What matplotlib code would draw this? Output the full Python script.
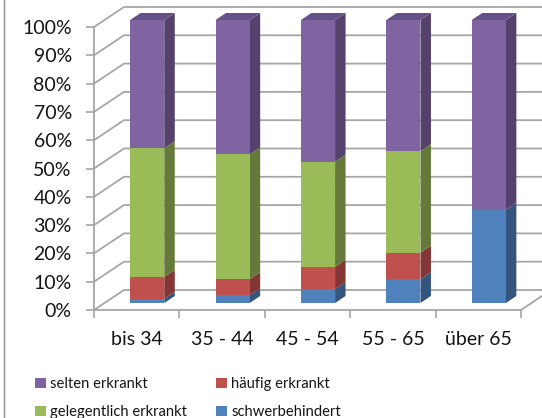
import numpy as np
import matplotlib.pyplot as plt
from matplotlib.patches import Polygon
from matplotlib.lines import Line2D

plt.rcParams['font.family'] = ['Lato', 'DejaVu Sans']

age_groups = ["bis 34", "35 - 44", "45 - 54", "55 - 65", "über 65"]
series_names = ["schwerbehindert", "häufig erkrankt", "gelegentlich erkrankt", "selten erkrankt"]
schwerbehindert = [1.5, 2.7, 4.9, 8.4, 32.9]
haeufig = [7.7, 5.7, 7.9, 9.4, 0.0]
gelegentlich = [45.5, 44.1, 37.1, 35.9, 0.0]
selten = [45.3, 47.5, 50.1, 46.3, 67.1]
y_ticks = [0, 10, 20, 30, 40, 50, 60, 70, 80, 90, 100]

# front / side / top shades per series
front_colors = ["#4f81bd", "#c0504d", "#9bbb59", "#8064a2"]
side_colors = ["#34567e", "#833634", "#657a3a", "#54426c"]
top_colors = ["#3f6796", "#9a403e", "#7c9647", "#66508a"]

# oblique depth offset, in category units and percent units
DX = 0.351
DY = 7.07
Z0, Z1 = 0.35, 0.70
BAR_W = 0.40
GRID = "#a6a6a6"
TEXT = "#141414"


def proj(x, y, z):
    return x + z * DX, y + z * DY


fig = plt.figure(figsize=(5.42, 4.18), dpi=100)
ax = fig.add_axes([94 / 542, 108 / 418, 427 / 542, 283 / 418])
n = len(age_groups)
ax.set_xlim(0, n)
ax.set_ylim(0, 100)
ax.set_facecolor("none")

# side wall and back wall gridlines
for t in y_ticks:
    xa, ya = proj(0, t, 0)
    xb, yb = proj(0, t, 1)
    xc, yc = proj(n, t, 1)
    ax.plot([xa, xb, xc], [ya, yb, yc], color=GRID, lw=1.3, clip_on=False, zorder=1)
# floor
xa, ya = proj(n, 0, 0)
xb, yb = proj(n, 0, 1)
ax.plot([xa, xb], [ya, yb], color=GRID, lw=1.3, clip_on=False, zorder=1)

stack = np.array([schwerbehindert, haeufig, gelegentlich, selten])
bottoms = np.vstack([np.zeros(n), np.cumsum(stack, axis=0)[:-1]])

for i in range(n):
    x0 = i + 0.5 - BAR_W / 2
    x1 = x0 + BAR_W
    top_series = max(k for k in range(len(series_names)) if stack[k, i] > 0)
    for k in range(len(series_names)):
        h = stack[k, i]
        if h <= 0:
            continue
        y0 = bottoms[k, i]
        y1 = y0 + h
        front = [proj(x0, y0, Z0), proj(x1, y0, Z0), proj(x1, y1, Z0), proj(x0, y1, Z0)]
        side = [proj(x1, y0, Z0), proj(x1, y0, Z1), proj(x1, y1, Z1), proj(x1, y1, Z0)]
        ax.add_patch(Polygon(side, closed=True, facecolor=side_colors[k],
                             edgecolor="none", clip_on=False, zorder=3))
        ax.add_patch(Polygon(front, closed=True, facecolor=front_colors[k],
                             edgecolor="none", clip_on=False, zorder=4))
        if k == top_series:
            top = [proj(x0, y1, Z0), proj(x1, y1, Z0), proj(x1, y1, Z1), proj(x0, y1, Z1)]
            ax.add_patch(Polygon(top, closed=True, facecolor=top_colors[k],
                                 edgecolor="none", clip_on=False, zorder=4))

# axes lines and ticks
for side_name in ["top", "right"]:
    ax.spines[side_name].set_visible(False)
for side_name in ["left", "bottom"]:
    ax.spines[side_name].set_color(GRID)
    ax.spines[side_name].set_linewidth(1.3)
    ax.spines[side_name].set_zorder(2)

ax.set_yticks(y_ticks)
ax.set_yticklabels([f"{t}%" for t in y_ticks])
ax.tick_params(axis="y", direction="out", length=6, width=1.2, color=GRID,
               labelsize=14, labelcolor=TEXT, pad=10)

ax.set_xticks(np.arange(n) + 0.5)
ax.set_xticklabels(age_groups)
ax.set_xticks(np.arange(n + 1), minor=True)
ax.tick_params(axis="x", which="major", length=0, labelsize=14,
               labelcolor=TEXT, pad=15)
ax.tick_params(axis="x", which="minor", direction="out", length=6, width=1.2, color=GRID)

# legend, two columns filled column by column
legend_order = [3, 2, 1, 0]
handles = [Polygon([[0, 0]], facecolor=front_colors[k], edgecolor="none") for k in legend_order]
fig.legend(handles, [series_names[k] for k in legend_order], ncol=2,
           loc="upper left", bbox_to_anchor=(22 / 542, 1 - 364 / 418),
           frameon=False, fontsize=10.6, handlelength=0.7, handleheight=0.7,
           handletextpad=0.3, columnspacing=2.0, labelspacing=0.95,
           labelcolor=TEXT)

# chart area border on the left edge
fig.add_artist(Line2D([3.5 / 542, 3.5 / 542], [0, 1], color="#8c8c8c", lw=1.0,
                      transform=fig.transFigure))

fig.savefig("out.png", dpi=100)
